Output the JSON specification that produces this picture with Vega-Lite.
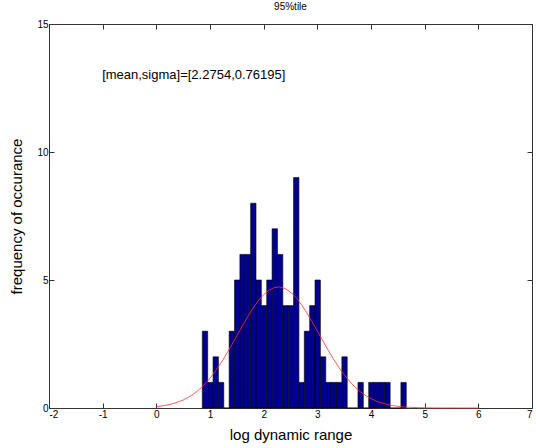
{
  "$schema": "https://vega.github.io/schema/vega-lite/v6.json",
  "width": 483,
  "height": 384,
  "autosize": "none",
  "padding": {"left": 49, "top": 24, "right": 4, "bottom": 40},
  "background": "white",
  "config": {
    "font": "Liberation Sans",
    "view": {"stroke": null},
    "axis": {"grid": false, "domainColor": "#333", "tickColor": "#333", "labelColor": "black", "titleColor": "black", "labelFont": "Liberation Sans", "titleFont": "Liberation Sans", "labelFontSize": 10, "titleFontSize": 15, "titleFontWeight": "normal", "tickSize": -5, "labelPadding": 6}
  },
  "title": {"text": "95%tile", "fontSize": 10, "fontWeight": "normal", "font": "Liberation Sans", "anchor": "middle", "offset": 7, "color": "black"},
  "datasets": {
    "bins": [
      {"start": 0.857, "end": 0.957, "count": 3},
      {"start": 0.957, "end": 1.057, "count": 1},
      {"start": 1.057, "end": 1.157, "count": 2},
      {"start": 1.157, "end": 1.257, "count": 1},
      {"start": 1.257, "end": 1.357, "count": 0},
      {"start": 1.357, "end": 1.457, "count": 3},
      {"start": 1.457, "end": 1.557, "count": 5},
      {"start": 1.557, "end": 1.657, "count": 6},
      {"start": 1.657, "end": 1.757, "count": 6},
      {"start": 1.757, "end": 1.857, "count": 8},
      {"start": 1.857, "end": 1.957, "count": 5},
      {"start": 1.957, "end": 2.057, "count": 4},
      {"start": 2.057, "end": 2.157, "count": 5},
      {"start": 2.157, "end": 2.257, "count": 7},
      {"start": 2.257, "end": 2.357, "count": 6},
      {"start": 2.357, "end": 2.457, "count": 4},
      {"start": 2.457, "end": 2.557, "count": 4},
      {"start": 2.557, "end": 2.657, "count": 9},
      {"start": 2.657, "end": 2.757, "count": 1},
      {"start": 2.757, "end": 2.857, "count": 3},
      {"start": 2.857, "end": 2.957, "count": 4},
      {"start": 2.957, "end": 3.057, "count": 5},
      {"start": 3.057, "end": 3.157, "count": 2},
      {"start": 3.157, "end": 3.257, "count": 1},
      {"start": 3.257, "end": 3.357, "count": 1},
      {"start": 3.357, "end": 3.457, "count": 1},
      {"start": 3.457, "end": 3.557, "count": 2},
      {"start": 3.557, "end": 3.657, "count": 0},
      {"start": 3.657, "end": 3.757, "count": 0},
      {"start": 3.757, "end": 3.857, "count": 1},
      {"start": 3.857, "end": 3.957, "count": 0},
      {"start": 3.957, "end": 4.057, "count": 1},
      {"start": 4.057, "end": 4.157, "count": 1},
      {"start": 4.157, "end": 4.257, "count": 1},
      {"start": 4.257, "end": 4.357, "count": 1},
      {"start": 4.357, "end": 4.457, "count": 0},
      {"start": 4.457, "end": 4.557, "count": 0},
      {"start": 4.557, "end": 4.657, "count": 1}
    ],
    "curve": [
      {"x": 0.0, "y": 0.055}, {"x": 0.1, "y": 0.080}, {"x": 0.2, "y": 0.116}, {"x": 0.3, "y": 0.164},
      {"x": 0.4, "y": 0.229}, {"x": 0.5, "y": 0.313}, {"x": 0.6, "y": 0.422}, {"x": 0.7, "y": 0.558},
      {"x": 0.8, "y": 0.726}, {"x": 0.9, "y": 0.928}, {"x": 1.0, "y": 1.165}, {"x": 1.1, "y": 1.439},
      {"x": 1.2, "y": 1.747}, {"x": 1.3, "y": 2.085}, {"x": 1.4, "y": 2.445}, {"x": 1.5, "y": 2.818},
      {"x": 1.6, "y": 3.193}, {"x": 1.7, "y": 3.557}, {"x": 1.8, "y": 3.894}, {"x": 1.9, "y": 4.189},
      {"x": 2.0, "y": 4.431}, {"x": 2.1, "y": 4.606}, {"x": 2.2, "y": 4.707}, {"x": 2.3, "y": 4.728},
      {"x": 2.4, "y": 4.667}, {"x": 2.5, "y": 4.529}, {"x": 2.6, "y": 4.320}, {"x": 2.7, "y": 4.050},
      {"x": 2.8, "y": 3.732}, {"x": 2.9, "y": 3.380}, {"x": 3.0, "y": 3.010}, {"x": 3.1, "y": 2.634},
      {"x": 3.2, "y": 2.265}, {"x": 3.3, "y": 1.915}, {"x": 3.4, "y": 1.592}, {"x": 3.5, "y": 1.300},
      {"x": 3.6, "y": 1.044}, {"x": 3.7, "y": 0.824}, {"x": 3.8, "y": 0.639}, {"x": 3.9, "y": 0.487},
      {"x": 4.0, "y": 0.365}, {"x": 4.1, "y": 0.269}, {"x": 4.2, "y": 0.195}, {"x": 4.3, "y": 0.139},
      {"x": 4.4, "y": 0.097}, {"x": 4.5, "y": 0.067}, {"x": 4.6, "y": 0.045}, {"x": 4.7, "y": 0.030},
      {"x": 4.8, "y": 0.020}, {"x": 4.9, "y": 0.013}, {"x": 5.0, "y": 0.008}, {"x": 5.2, "y": 0.003},
      {"x": 5.4, "y": 0.001}, {"x": 5.6, "y": 0.0003}, {"x": 5.8, "y": 0.0001}, {"x": 6.0, "y": 0.0}
    ],
    "note": [{"x": -1.01, "y": 13.02, "label": "[mean,sigma]=[2.2754,0.76195]"}]
  },
  "layer": [
    {
      "data": {"name": "bins"},
      "mark": {"type": "rect", "fill": "#00008f", "stroke": "#000000", "strokeWidth": 0.6},
      "encoding": {
        "x": {"field": "start", "type": "quantitative", "scale": {"domain": [-2, 7], "nice": false, "zero": false}, "axis": {"orient": "bottom", "values": [-2, -1, 0, 1, 2, 3, 4, 5, 6, 7], "labelExpr": "'' + datum.value", "title": "log dynamic range", "titlePadding": 8}},
        "x2": {"field": "end"},
        "y": {"field": "count", "type": "quantitative", "scale": {"domain": [0, 15], "nice": false}, "axis": {"orient": "left", "values": [0, 5, 10, 15], "title": "frequency of occurance", "titlePadding": 12}},
        "y2": {"datum": 0}
      }
    },
    {
      "data": {"name": "curve"},
      "mark": {"type": "line", "color": "#ff3030", "strokeWidth": 0.8},
      "encoding": {
        "x": {"field": "x", "type": "quantitative", "axis": {"orient": "top", "values": [-2, -1, 0, 1, 2, 3, 4, 5, 6, 7], "labels": false, "title": null}},
        "y": {"field": "y", "type": "quantitative", "axis": {"orient": "right", "values": [0, 5, 10, 15], "labels": false, "title": null}}
      }
    },
    {
      "data": {"name": "note"},
      "mark": {"type": "text", "align": "left", "baseline": "middle", "fontSize": 13, "font": "Liberation Sans", "color": "black"},
      "encoding": {
        "x": {"field": "x", "type": "quantitative", "axis": null},
        "y": {"field": "y", "type": "quantitative", "axis": null},
        "text": {"field": "label"}
      }
    }
  ],
  "resolve": {"axis": {"x": "independent", "y": "independent"}}
}
